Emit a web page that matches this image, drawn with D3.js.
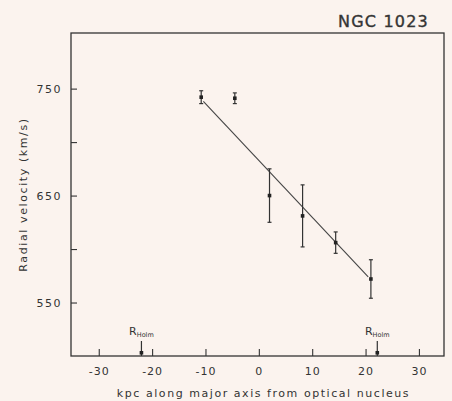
<!DOCTYPE html>
<html>
<head>
<meta charset="utf-8">
<script src="https://cdn.jsdelivr.net/npm/d3@7"></script>
<style>
  body { margin: 0; background: #fbf3ee; }
  svg { display: block; }
  text { font-family: "DejaVu Sans", sans-serif; fill: #333; }
</style>
</head>
<body>
<script>
// values
const distKpc = [-10.8, -4.5, 2.0, 8.2, 14.4, 21.0]
const velocity = [742, 741, 650, 631, 606, 572]
const velErr = [6, 5, 25, 29, 10, 18]

// straight fit through the points
const fitX = [-10.4, 20.5]
const fitV = [738, 574]

// Holmberg radius markers
const holmX = [-22.0, 22.2]

const xTicks = [-30, -20, -10, 0, 10, 20, 30]
const yTicks = [550, 600, 650, 700, 750]
const yLabels = [550, 650, 750]

const W = 452, H = 401
const margin = { top: 33, right: 8, bottom: 45, left: 71 }
const ink = "#333"

const svg = d3.select("body").append("svg")
    .attr("width", W)
    .attr("height", H)

const x = d3.scaleLinear()
    .domain([-35.2, 34.7])
    .range([margin.left, W - margin.right])

const y = d3.scaleLinear()
    .domain([500, 802])
    .range([H - margin.bottom, margin.top])

// frame
svg.append("rect")
    .attr("x", margin.left)
    .attr("y", margin.top)
    .attr("width", W - margin.right - margin.left)
    .attr("height", H - margin.bottom - margin.top)
    .attr("fill", "none")
    .attr("stroke", ink)
    .attr("stroke-width", 1.3)

// x axis, ticks pointing inward, plain hyphen for negatives
const xAxis = svg.append("g")
    .attr("transform", `translate(0,${H - margin.bottom})`)
    .call(d3.axisBottom(x).tickValues(xTicks).tickSizeInner(-7).tickSizeOuter(0).tickPadding(11)
        .tickFormat(d => String(d)))
xAxis.select(".domain").remove()
xAxis.selectAll("line").attr("stroke", ink).attr("stroke-width", 1.1)
xAxis.selectAll("text")
    .style("font-size", "11px")
    .style("letter-spacing", "1px")
    .attr("fill", ink)

// y axis
const yAxis = svg.append("g")
    .attr("transform", `translate(${margin.left},0)`)
    .call(d3.axisLeft(y).tickValues(yTicks).tickSizeInner(-6).tickSizeOuter(0).tickPadding(9)
        .tickFormat(d => yLabels.includes(d) ? d : ""))
yAxis.select(".domain").remove()
yAxis.selectAll("line").attr("stroke", ink).attr("stroke-width", 1.1)
yAxis.selectAll("text")
    .style("font-size", "11px")
    .style("letter-spacing", "1.5px")
    .attr("fill", ink)

// fit line
svg.append("line")
    .attr("x1", x(fitX[0])).attr("y1", y(fitV[0]))
    .attr("x2", x(fitX[1])).attr("y2", y(fitV[1]))
    .attr("stroke", "#444")
    .attr("stroke-width", 1.1)

// error bars
const pts = distKpc.map((d, i) => ({ d: d, v: velocity[i], e: velErr[i] }))
const bars = svg.append("g").selectAll("g")
    .data(pts)
    .join("g")
bars.append("line")
    .attr("x1", p => x(p.d)).attr("x2", p => x(p.d))
    .attr("y1", p => y(p.v + p.e)).attr("y2", p => y(p.v - p.e))
    .attr("stroke", ink).attr("stroke-width", 1.2)
bars.selectAll(".cap")
    .data(p => [p.v + p.e, p.v - p.e].map(v => ({ d: p.d, v: v })))
    .join("line")
    .attr("class", "cap")
    .attr("x1", c => x(c.d) - 2).attr("x2", c => x(c.d) + 2)
    .attr("y1", c => y(c.v)).attr("y2", c => y(c.v))
    .attr("stroke", ink).attr("stroke-width", 1.2)
bars.append("rect")
    .attr("x", p => x(p.d) - 1.8)
    .attr("y", p => y(p.v) - 1.8)
    .attr("width", 3.6)
    .attr("height", 3.6)
    .attr("fill", "#222")

// Holmberg radius marks
const holm = svg.append("g").selectAll("g")
    .data(holmX)
    .join("g")
holm.append("line")
    .attr("x1", d => x(d)).attr("x2", d => x(d))
    .attr("y1", y(514)).attr("y2", y(500))
    .attr("stroke", ink).attr("stroke-width", 1.2)
holm.append("rect")
    .attr("x", d => x(d) - 1.8)
    .attr("y", y(503) - 1.8)
    .attr("width", 3.6).attr("height", 3.6)
    .attr("fill", "#222")
const hl = holm.append("text")
    .attr("x", d => x(d))
    .attr("y", y(520))
    .attr("text-anchor", "middle")
    .style("font-size", "11px")
hl.append("tspan").text("R")
hl.append("tspan").attr("dy", 2).style("font-size", "6.5px").text("Holm")

// title
svg.append("text")
    .attr("x", 429)
    .attr("y", 27)
    .attr("text-anchor", "end")
    .style("font-size", "16px")
    .style("letter-spacing", "1.2px")
    .attr("fill", "#3a3a3a")
    .attr("stroke", "#3a3a3a")
    .attr("stroke-width", 0.4)
    .text("NGC 1023")

// axis titles
svg.append("text")
    .attr("x", (x(-35.2) + x(34.7)) / 2 + 6)
    .attr("y", 397)
    .attr("text-anchor", "middle")
    .style("font-size", "11px")
    .style("letter-spacing", "1.55px")
    .text("kpc along major axis from optical nucleus")

svg.append("text")
    .attr("transform", `translate(27,${y(651)}) rotate(-90)`)
    .attr("text-anchor", "middle")
    .style("font-size", "11px")
    .style("letter-spacing", "1.6px")
    .text("Radial velocity (km/s)")
</script>
</body>
</html>
